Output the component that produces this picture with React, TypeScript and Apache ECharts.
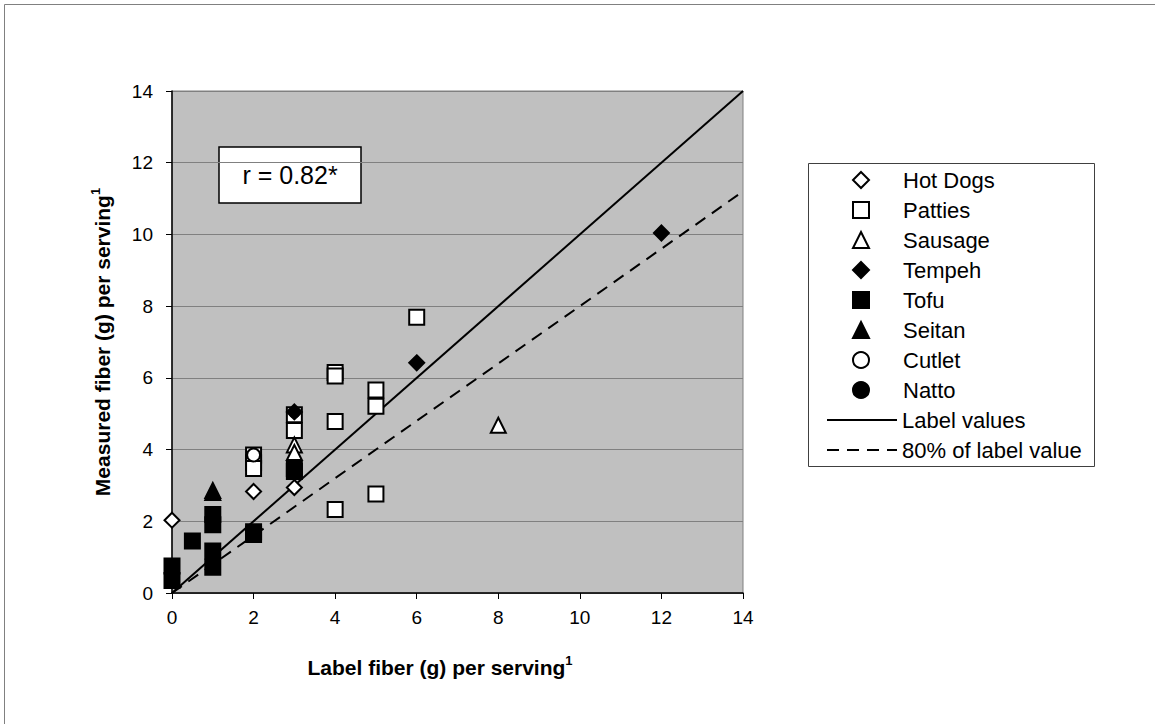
import React, { useEffect, useRef } from "react";
import * as echarts from "echarts";

// ---- data (label fiber g, measured fiber g) ----
const hotDogs = [[0, 2.03], [2, 2.83], [3, 2.94]];
const patties = [
  [2, 3.85], [2, 3.63], [2, 3.47],
  [3, 4.97], [3, 4.53],
  [4, 6.15], [4, 6.05], [4, 4.78], [4, 2.33],
  [5, 5.66], [5, 5.21], [5, 2.76],
  [6, 7.69],
];
const sausage = [[3, 4.13], [3, 3.92], [8, 4.68]];
const tempeh = [[3, 5.05], [6, 6.42], [12, 10.04]];
const tofu = [
  [0, 0.75], [0, 0.35], [0.5, 1.45],
  [1, 2.19], [1, 1.9], [1, 1.17], [1, 0.72],
  [2, 1.71], [2, 1.63],
  [3, 3.47], [3, 3.39],
];
const seitan = [[1, 2.86], [1, 2.8]];
const cutlet = [[2, 3.85]];
const natto = [[3, 5.02]];
const labelValues = [[0, 0], [14, 14]];
const eightyPct = [[0, 0], [14, 11.2]];

const markerNames = ["Hot Dogs", "Patties", "Sausage", "Tempeh", "Tofu", "Seitan", "Cutlet", "Natto"];
const lineNames = ["Label values", "80% of label value"];
const xTitle = "Label fiber (g) per serving";
const yTitle = "Measured fiber (g) per serving";
const rText = "r = 0.82*";

const SANS = "'Liberation Sans', Arial, sans-serif";

const openStyle = { color: "#ffffff", borderColor: "#000000", borderWidth: 2, opacity: 1 };
const fillStyle = { color: "#000000", borderColor: "#000000", borderWidth: 2, opacity: 1 };

function scatter(name: string, data: number[][], symbol: string, size: number, style: any, z = 3) {
  return {
    type: "scatter",
    name,
    data,
    symbol,
    symbolSize: size,
    itemStyle: style,
    silent: true,
    z,
  };
}

export default function App() {
  const ref = useRef<HTMLDivElement>(null);
  useEffect(() => {
    if (!ref.current) return;
    const chart = echarts.init(ref.current, undefined, { renderer: "svg" });
    const titleRich = {
      a: { fontFamily: SANS, fontSize: 21, fontWeight: "bold", fill: "#000", lineHeight: 26 },
      s: { fontFamily: SANS, fontSize: 13, fontWeight: "bold", fill: "#000", verticalAlign: "top", lineHeight: 26 },
    };
    const option: any = {
      animation: false,
      backgroundColor: "#ffffff",
      grid: {
        left: 172, top: 91, width: 571, height: 502,
        show: true, backgroundColor: "#C0C0C0", borderColor: "#808080", borderWidth: 1,
      },
      xAxis: {
        type: "value", min: 0, max: 14, interval: 2,
        axisLine: { show: true, onZero: false, lineStyle: { color: "#000", width: 1.5 } },
        axisTick: { show: true, length: 6, lineStyle: { color: "#000" } },
        splitLine: { show: false },
        axisLabel: { fontFamily: SANS, fontSize: 19, color: "#000", margin: 15 },
      },
      yAxis: {
        type: "value", min: 0, max: 14, interval: 2,
        axisLine: { show: true, onZero: false, lineStyle: { color: "#000", width: 1.5 } },
        axisTick: { show: true, length: 6, lineStyle: { color: "#000" } },
        splitLine: { show: true, lineStyle: { color: "#808080", width: 1 } },
        axisLabel: { fontFamily: SANS, fontSize: 19, color: "#000", margin: 19 },
      },
      legend: [
        {
          orient: "vertical", left: 847, top: 163,
          itemWidth: 16, itemHeight: 16, itemGap: 6,
          data: markerNames,
          selectedMode: false,
          textStyle: { fontFamily: SANS, fontSize: 22, color: "#000", lineHeight: 24, padding: [0, 0, 0, 29] },
        },
        {
          orient: "vertical", left: 821, top: 403,
          itemWidth: 70, itemHeight: 16, itemGap: 6,
          data: lineNames,
          selectedMode: false,
          itemStyle: { color: "rgba(0,0,0,0)", borderWidth: 0, opacity: 0 },
          textStyle: { fontFamily: SANS, fontSize: 22, color: "#000", lineHeight: 24 },
        },
      ],
      series: [
        {
          type: "line", name: "Label values", data: labelValues, symbol: "none",
          itemStyle: { color: "#000" },
          lineStyle: { color: "#000", width: 2, type: "solid" }, silent: true, z: 2,
        },
        {
          type: "line", name: "80% of label value", data: eightyPct, symbol: "none",
          itemStyle: { color: "#000" },
          lineStyle: { color: "#000", width: 2, type: [12, 8] }, silent: true, z: 2,
        },
        scatter("Hot Dogs", hotDogs, "diamond", 15, openStyle),
        scatter("Patties", patties, "rect", 15, openStyle),
        scatter("Sausage", sausage, "triangle", 15, openStyle),
        scatter("Natto", natto, "circle", 9, fillStyle),
        scatter("Tempeh", tempeh, "diamond", 15, fillStyle),
        scatter("Tofu", tofu, "rect", 15, fillStyle),
        scatter("Seitan", seitan, "triangle", 15, fillStyle),
        scatter("Cutlet", cutlet, "circle", 13, openStyle),
      ],
      graphic: [
        {
          type: "rect", silent: true,
          shape: { x: 4.5, y: 4.5, width: 1400, height: 1000 },
          style: { fill: "none", stroke: "#808080", lineWidth: 1 },
        },
        {
          type: "rect", silent: true,
          shape: { x: 219, y: 147, width: 142, height: 56 },
          style: { fill: "#ffffff", stroke: "#000", lineWidth: 1.5 },
        },
        {
          type: "text", silent: true, x: 290, y: 175,
          style: {
            text: rText, fontFamily: SANS, fontSize: 25,
            fill: "#000", align: "center", verticalAlign: "middle",
          },
        },
        {
          type: "rect", silent: true,
          shape: { x: 808.5, y: 163.5, width: 286, height: 303 },
          style: { fill: "none", stroke: "#404040", lineWidth: 1 },
        },
        {
          type: "text", silent: true, x: 440, y: 667,
          style: {
            text: "{a|" + xTitle + "}{s|1}",
            align: "center", verticalAlign: "middle",
            rich: titleRich,
          },
        },
        {
          type: "text", silent: true, x: 102, y: 342, rotation: Math.PI / 2,
          style: {
            text: "{a|" + yTitle + "}{s|1}",
            align: "center", verticalAlign: "middle",
            rich: titleRich,
          },
        },
      ],
    };
    chart.setOption(option);
    return () => chart.dispose();
  }, []);
  return (
    <div
      ref={ref}
      style={{ position: "fixed", left: 0, top: 0, width: 1155, height: 724, background: "#fff" }}
    />
  );
}
